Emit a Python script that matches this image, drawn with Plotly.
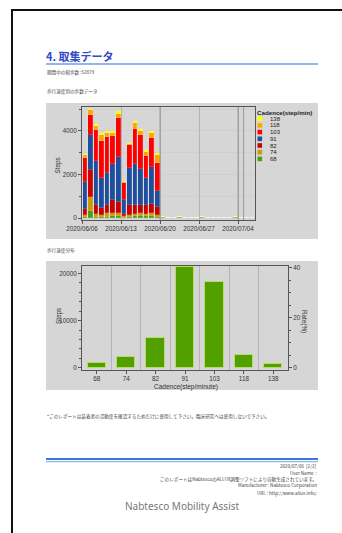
import plotly.graph_objects as go
import pandas as pd

W, H = 342, 533

# ---------------- data ----------------
TOTAL_STEPS = 52879
cadences = ["68", "74", "82", "91", "103", "118", "138"]
cad_colors = ["#4a9e1e", "#cf9a00", "#cc0000", "#1f4e9e", "#ff0000", "#ffa500", "#ffff00"]

dates = [d.strftime("%Y-%m-%d") for d in pd.date_range("2020-06-06", "2020-07-06")]

# daily steps per cadence (06/06 .. 07/06)
s68 = [40, 300, 60, 50, 60, 80, 80, 20, 50, 70, 80, 70, 80, 40,
       15, 12, 10, 14, 8, 12, 10, 20, 12, 10, 8, 12, 10, 14, 10, 12, 8]
s74 = [100, 650, 120, 100, 150, 170, 170, 50, 100, 130, 150, 130, 170, 100,
       10, 8, 6, 10, 6, 8, 8, 30, 8, 6, 6, 8, 6, 10, 6, 8, 6]
s82 = [280, 1250, 420, 300, 400, 600, 500, 130, 450, 400, 370, 400, 400, 350,
       0, 0, 0, 0, 0, 0, 0, 0, 0, 0, 0, 0, 0, 0, 0, 0, 0]
s91 = [1230, 1600, 2000, 1400, 1450, 1650, 2050, 650, 1700, 1900, 1650, 1250, 1700, 750,
       0, 0, 0, 0, 0, 0, 0, 0, 0, 0, 0, 0, 0, 0, 0, 0, 0]
s103 = [1100, 950, 1450, 1700, 1650, 1250, 1800, 750, 1050, 1600, 1550, 1000, 1350, 1300,
        0, 0, 0, 0, 0, 0, 0, 0, 0, 0, 0, 0, 0, 0, 0, 0, 0]
s118 = [130, 200, 200, 250, 190, 180, 200, 60, 60, 280, 220, 200, 230, 360,
        0, 0, 0, 0, 0, 0, 0, 0, 0, 0, 0, 0, 0, 0, 0, 0, 0]
s138 = [70, 80, 80, 90, 100, 70, 100, 40, 50, 70, 80, 60, 70, 100,
        0, 0, 0, 0, 0, 0, 0, 0, 0, 0, 0, 0, 0, 0, 0, 0, 0]
daily_series = [s68, s74, s82, s91, s103, s118, s138]

date_ticks = ["2020-06-06", "2020-06-13", "2020-06-20", "2020-06-27", "2020-07-04"]
date_ticktext = ["2020/06/06", "2020/06/13", "2020/06/20", "2020/06/27", "2020/07/04"]
mark_lines = ["2020-06-20", "2020-07-04", "2020-07-05"]

# histogram: total steps per cadence
hist_steps = [950, 2350, 6200, 21300, 18200, 2750, 850]

top_yticks = [0, 2000, 4000]
bot_yticks = [0, 10000, 20000]
rate_ticks = [0, 20, 40]

# ---------------- helpers ----------------
def X(px):
    return px / W

def Y(py):
    return 1 - py / H

NUM_FONT = "Liberation Sans, Arial, sans-serif"
JP_FONT = "Noto Sans CJK JP, sans-serif"

fig = go.Figure()

# ---------- top chart: stacked daily bars ----------
bar_x = [d + " 12:00" for d in dates]
for name, vals, col in zip(cadences, daily_series, cad_colors):
    fig.add_trace(go.Bar(
        x=bar_x, y=vals, name=name,
        marker=dict(color=col, line=dict(color="rgba(255,255,255,0.35)", width=0.4)),
        width=0.82 * 86400000, xaxis="x", yaxis="y", showlegend=False))

# ---------- bottom chart: histogram ----------
idx = list(range(len(cadences)))
fig.add_trace(go.Bar(
    x=idx, y=hist_steps, marker=dict(color="#52a000", line=dict(color="#b9db6e", width=1)),
    width=0.62, xaxis="x2", yaxis="y2", showlegend=False))
rates = [v / TOTAL_STEPS * 100 for v in hist_steps]
fig.add_trace(go.Scatter(x=idx, y=rates, mode="markers", marker=dict(opacity=0),
                         xaxis="x2", yaxis="y3", showlegend=False, hoverinfo="skip"))

# y ranges (pixel-calibrated)
top_rng = [-92, 5103]
bot_rng = [-480, 21570]

tickfont = dict(family=NUM_FONT, size=6.3, color="#333")
axline = dict(showline=True, linecolor="#555", linewidth=0.8, mirror=True, ticks="outside",
              ticklen=3, tickcolor="#555", tickwidth=0.8, tickfont=tickfont, automargin=False)

fig.update_layout(
    width=W, height=H, autosize=False,
    margin=dict(l=0, r=0, t=0, b=0, pad=0, autoexpand=False),
    paper_bgcolor="white", plot_bgcolor="#d6d6d6",
    barmode="stack", bargap=0, showlegend=False,
    xaxis=dict(domain=[X(82), X(255)], type="date",
               range=["2020-06-06", "2020-07-07 01:00"],
               tickvals=date_ticks, ticktext=date_ticktext,
               showgrid=True, gridcolor="#b4b4b4", gridwidth=0.7,
               anchor="y", **axline),
    yaxis=dict(domain=[Y(220), Y(107)], range=top_rng,
               tickvals=top_yticks, ticktext=[str(v) for v in top_yticks],
               showgrid=False, zeroline=False,
               minor=dict(dtick=1000, ticks="outside", ticklen=2, tickcolor="#555", showgrid=True,
                          gridcolor="#cfcfcf", gridwidth=0.5),
               anchor="x", **axline),
    xaxis2=dict(domain=[X(82), X(288)], range=[-0.5, 6.5],
                tickvals=idx, ticktext=cadences, showgrid=False, zeroline=False,
                minor=dict(tickvals=[0.5, 1.5, 2.5, 3.5, 4.5, 5.5], showgrid=True,
                           gridcolor="#b4b4b4", gridwidth=0.7, ticks=""),
                anchor="y2", **axline),
    yaxis2=dict(domain=[Y(370), Y(266)], range=bot_rng,
                tickvals=bot_yticks, ticktext=[str(v) for v in bot_yticks],
                showgrid=False, zeroline=False,
                minor=dict(dtick=2000, ticks="outside", ticklen=2, tickcolor="#555"),
                anchor="x2", **axline),
    yaxis3=dict(overlaying="y2", side="right", anchor="x2",
                range=[v / TOTAL_STEPS * 100 for v in bot_rng],
                tickvals=rate_ticks, ticktext=[str(v) for v in rate_ticks],
                showgrid=False, zeroline=False, automargin=False,
                minor=dict(dtick=5, ticks="outside", ticklen=2, tickcolor="#555"),
                showline=True, linecolor="#555", linewidth=0.8, ticks="outside",
                ticklen=3, tickcolor="#555", tickwidth=0.8, tickfont=tickfont),
)

shapes = []
# page frame
shapes.append(dict(type="line", xref="paper", yref="paper", x0=X(11), x1=X(342), y0=Y(10), y1=Y(10),
                   line=dict(color="#111", width=2)))
shapes.append(dict(type="line", xref="paper", yref="paper", x0=X(12), x1=X(12), y0=Y(9), y1=Y(533),
                   line=dict(color="#111", width=2)))
# title underline
shapes.append(dict(type="line", xref="paper", yref="paper", x0=X(46), x1=X(318), y0=Y(64), y1=Y(64),
                   line=dict(color="#6d9cea", width=1.3)))
# gray panels
shapes.append(dict(type="rect", xref="paper", yref="paper", x0=X(46), x1=X(318), y0=Y(103), y1=Y(239),
                   fillcolor="#d6d6d6", line=dict(width=0), layer="below"))
shapes.append(dict(type="rect", xref="paper", yref="paper", x0=X(46), x1=X(318), y0=Y(261), y1=Y(390),
                   fillcolor="#d6d6d6", line=dict(width=0), layer="below"))
# darker vertical marker lines in top chart
for d in mark_lines:
    shapes.append(dict(type="line", xref="x", yref="y", x0=d, x1=d, y0=top_rng[0], y1=top_rng[1],
                       line=dict(color="#8a8a8a", width=0.8)))
# footer lines
shapes.append(dict(type="line", xref="paper", yref="paper", x0=X(46), x1=X(318), y0=Y(459), y1=Y(459),
                   line=dict(color="#3b78d8", width=2)))
shapes.append(dict(type="line", xref="paper", yref="paper", x0=X(46), x1=X(318), y0=Y(461.7), y1=Y(461.7),
                   line=dict(color="#8db6ee", width=1.2)))

# manual legend
leg_x0 = 257.5
leg_y0 = 118.7
leg_dy = 6.7
for i, (name, col) in enumerate(reversed(list(zip(cadences, cad_colors)))):
    cy = leg_y0 + i * leg_dy
    shapes.append(dict(type="rect", xref="paper", yref="paper",
                       x0=X(leg_x0), x1=X(leg_x0 + 4.6), y0=Y(cy + 2.3), y1=Y(cy - 2.3),
                       fillcolor=col, line=dict(width=0)))

annotations = []
def txt(s, x, y, size, color="#333", anchor="left", family=JP_FONT, angle=0):
    annotations.append(dict(text=s, x=X(x), y=Y(y), xref="paper", yref="paper",
                            xanchor=anchor, yanchor="middle", showarrow=False, textangle=angle,
                            font=dict(size=size, color=color, family=family), borderpad=0))

for i, name in enumerate(reversed(cadences)):
    txt(name, 268.5, leg_y0 + i * leg_dy, 6, "#222", family=NUM_FONT)
txt("<b>Cadence(step/min)</b>", 255.5, 112, 6.2, "#222", family=NUM_FONT)

txt("<b>4. 取集データ</b>", 45, 56.5, 11, "#3548c5")
txt(f"期間中の総歩数 :{TOTAL_STEPS}", 46, 72, 4.6, "#444")
txt("歩行速度別の歩数データ", 46, 91, 4.6, "#444")
txt("歩行速度分布", 46, 251, 4.6, "#444")

txt("Steps", 57.5, 166, 6.3, "#333", "center", NUM_FONT, -90)
txt("Steps", 59, 316, 6.3, "#333", "center", NUM_FONT, -90)
txt("Rate(%)", 304, 321, 6.3, "#333", "center", NUM_FONT, 90)
txt("Cadence(step/minute)", 186, 386.5, 6.5, "#333", "center", NUM_FONT)

txt("*このレポートは装着者の活動度を確認するためだけに使用して下さい。臨床研究へは使用しないで下さい。",
    46, 416, 4.6, "#444")
txt("2020/07/06  [2/2]", 318, 465.5, 4.6, "#444", "right")
txt("User Name  :", 318, 472.5, 4.6, "#444", "right")
txt("このレポートはNabtescoのALLUX調整ソフトにより自動生成されています。", 318, 479, 4.6, "#444", "right")
txt("Manufacturer : Nabtesco Corporation", 318, 485.5, 4.6, "#444", "right")
txt("URL : http://www.allux.info/", 318, 493, 4.6, "#444", "right")
txt("Nabtesco Mobility Assist", 182, 506, 10, "#777", "center", "Noto Sans, sans-serif")

fig.update_layout(shapes=shapes, annotations=annotations)

fig.write_html("out.html", config={"displayModeBar": False},
               post_script="document.body.style.margin='0';document.body.style.overflow='hidden';")
